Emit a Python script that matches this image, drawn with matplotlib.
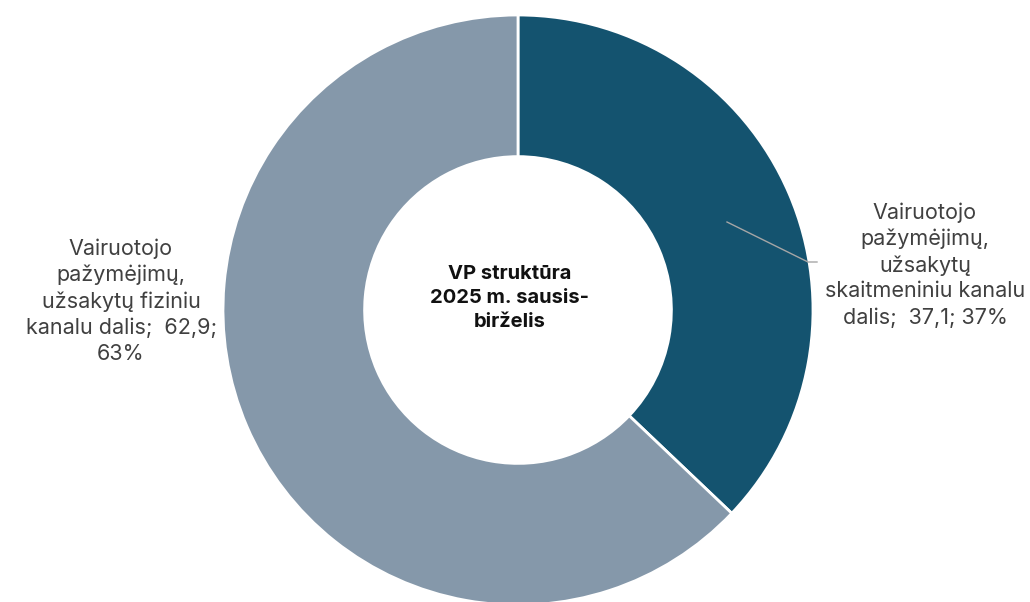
import matplotlib
matplotlib.use("Agg")
import matplotlib.pyplot as plt

# ── Data ─────────────────────────────────────────────────────────────
labels = [
    "Vairuotojo\npažymėjimų,\nužsakytų\nskaitmeniniu kanalu\ndalis;  37,1; 37%",
    "Vairuotojo\npažymėjimų,\nužsakytų fiziniu\nkanalu dalis;  62,9;\n63%",
]
values = [37.1, 62.9]
colors = ["#14536F", "#8598AA"]
center_title = "VP struktūra\n2025 m. sausis-\nbirželis"

W, H = 1030, 602
plt.rcParams["font.family"] = ["Inter", "DejaVu Sans"]

fig = plt.figure(figsize=(W / 100, H / 100), dpi=100)
ax = fig.add_axes([0, 0, 1, 1])

cx, cy, R = 518, H - 310, 295
ax.pie(values, colors=colors, startangle=90, counterclock=False,
       radius=R, center=(cx, cy), frame=True,
       wedgeprops=dict(width=R * 0.48, edgecolor="white", linewidth=2))
ax.set_xlim(0, W)
ax.set_ylim(0, H)
ax.set_aspect("equal")
ax.axis("off")

# centre text
ax.text(510, H - 298, center_title, ha="center", va="center",
        fontsize=14.5, fontweight="bold", color="#111111", linespacing=1.45)

# labels
ax.text(925, H - 265, labels[0], ha="center", va="center",
        fontsize=15.5, color="#404040", linespacing=1.36)
ax.text(121, H - 301, labels[1], ha="center", va="center",
        fontsize=15.5, color="#404040", linespacing=1.36)

# leader line for right label
ax.plot([727, 808, 817], [H - 222, H - 262, H - 262], color="#A6A6A6", lw=1)

fig.savefig("out.png", dpi=100)
